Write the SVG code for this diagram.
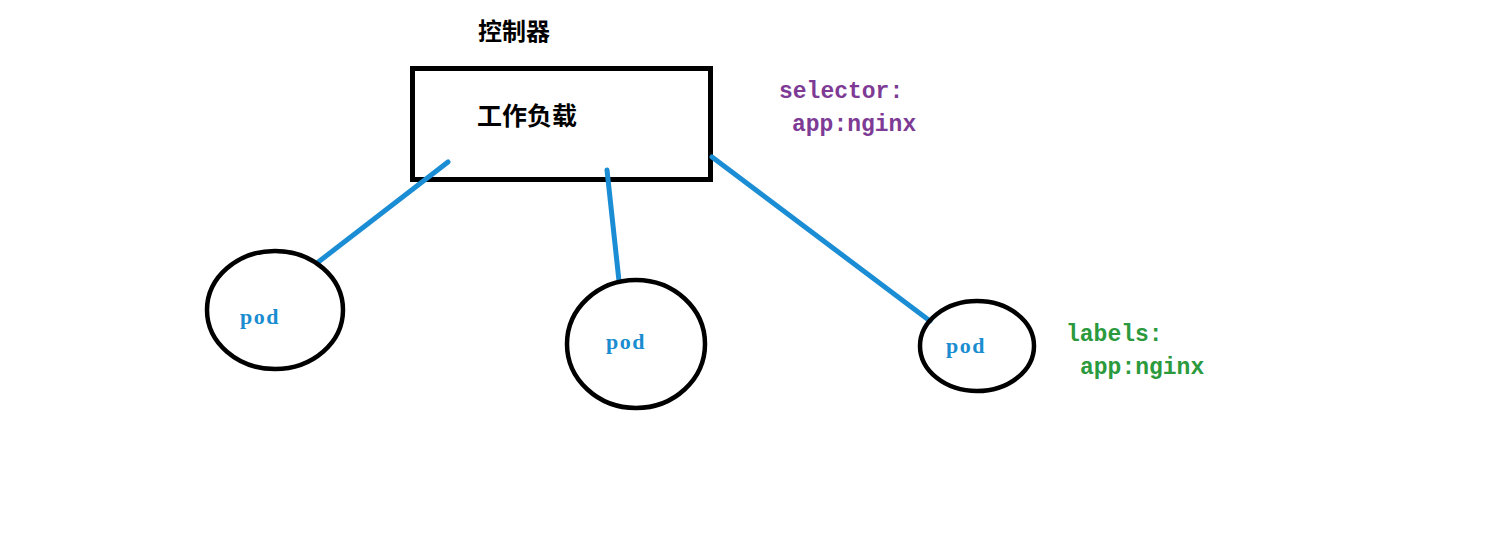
<svg xmlns="http://www.w3.org/2000/svg" width="1486" height="538" viewBox="0 0 1486 538">
<style>
.box{fill:#fff;stroke:#000;stroke-width:5}
.pod{fill:none;stroke:#000;stroke-width:4.5}
.conn{stroke:#1a8dd4;stroke-width:5;stroke-linecap:round;fill:none}
.cjk{font-family:"Noto Sans CJK SC","Noto Sans",sans-serif;fill:#000}
.podt{font-family:"Liberation Serif","DejaVu Serif",serif;font-weight:bold;font-size:22px;letter-spacing:1.5px;fill:#1a8dd0}
.mono{font-family:"Liberation Mono","DejaVu Sans Mono",monospace;font-weight:bold;font-size:23px}
.sel{fill:#7d3b95}
.lab{fill:#2b9a3c}
</style>
<rect width="1486" height="538" fill="#fff"/>
<g id="controller">
<text class="cjk" x="478" y="40" font-size="24" font-weight="bold">控制器</text>
<rect class="box" x="412.5" y="68.5" width="298" height="111"/>
<text class="cjk" x="477" y="125" font-size="25" font-weight="bold">工作负载</text>
</g>
<g id="connectors">
<line class="conn" x1="448" y1="162" x2="317" y2="263"/>
<line class="conn" x1="607" y1="170" x2="619" y2="281"/>
<line class="conn" x1="712" y1="157" x2="930" y2="321"/>
</g>
<g id="pod1">
<ellipse class="pod" cx="275" cy="310" rx="68" ry="59"/>
<text class="podt" x="240" y="324">pod</text>
</g>
<g id="pod2">
<ellipse class="pod" cx="636" cy="344" rx="69" ry="64"/>
<text class="podt" x="606" y="349">pod</text>
</g>
<g id="pod3">
<ellipse class="pod" cx="977" cy="346" rx="57" ry="45"/>
<text class="podt" x="946" y="353">pod</text>
</g>
<g id="selector">
<text class="mono sel" x="779" y="98">selector:</text>
<text class="mono sel" x="792" y="131">app:nginx</text>
</g>
<g id="labels">
<text class="mono lab" x="1066" y="341">labels:</text>
<text class="mono lab" x="1080" y="374">app:nginx</text>
</g>
</svg>
